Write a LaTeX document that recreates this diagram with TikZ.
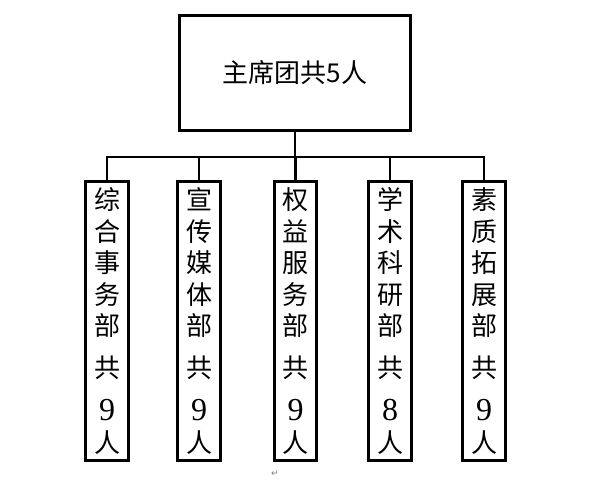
\documentclass[tikz,border=0pt]{standalone}
\usepackage{fontspec}
\newfontfamily\cjk{Noto Sans CJK SC}
\newfontfamily\numfont{Liberation Serif}
\newfontfamily\symfont{DejaVu Sans}
\usetikzlibrary{positioning}
\tikzset{
    orgchart/.style={x=0.75pt, y=-0.75pt, font=\cjk},
    headbox/.style={draw, line width=2.2pt, minimum width=173pt, minimum height=86pt,
        font=\cjk\fontsize{19.5}{23.6}\selectfont},
    deptbox/.style={draw, line width=2.2pt, minimum width=32pt, minimum height=209pt,
        inner sep=0pt, align=center, font=\cjk\fontsize{19.5}{23.6}\selectfont},
    link/.style={line width=2.1pt},
}
% digits in the department boxes are set in a serif face
\newcommand{\deptnum}[1]{{\numfont\fontsize{24}{23.6}\selectfont #1}}

\begin{document}
\begin{tikzpicture}[orgchart]
    \useasboundingbox (0,0) rectangle (591,480);

    \node[headbox]               (chair)     at (295,73)    {主席团共5人};
    \coordinate                  (bus)       at (295,157);

    \node[deptbox] (zonghe)    at (107,321)   {综\\合\\事\\务\\部\\[7.5pt]共\\[9pt]\deptnum{9}\\人};
    \node[deptbox] (xuanchuan) at (199,321)   {宣\\传\\媒\\体\\部\\[7.5pt]共\\[9pt]\deptnum{9}\\人};
    \node[deptbox] (quanyi)    at (295.5,321) {权\\益\\服\\务\\部\\[7.5pt]共\\[9pt]\deptnum{9}\\人};
    \node[deptbox] (xueshu)    at (390,321)   {学\\术\\科\\研\\部\\[7.5pt]共\\[9pt]\deptnum{8}\\人};
    \node[deptbox] (suzhi)     at (484,321)   {素\\质\\拓\\展\\部\\[7.5pt]共\\[9pt]\deptnum{9}\\人};

    \draw[link] (chair) -- (bus);
    \draw[link] (bus) -| (zonghe);
    \draw[link] (bus) -| (xuanchuan);
    \draw[link] (bus) -| (quanyi);
    \draw[link] (bus) -| (xueshu);
    \draw[link] (bus) -| (suzhi);

    \node[text=gray, font=\symfont\fontsize{7}{7}\selectfont] (mark) at (275,474) {↵};
\end{tikzpicture}
\end{document}
